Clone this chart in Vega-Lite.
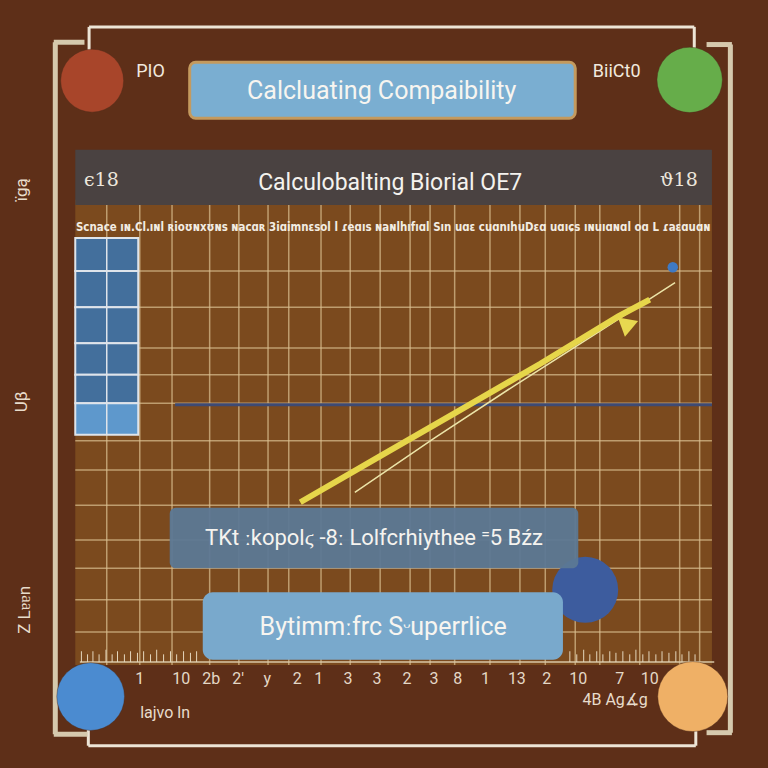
{
  "$schema": "https://vega.github.io/schema/vega-lite/v6.json",
  "autosize": {"type": "fit", "contains": "padding"},
  "width": 768,
  "height": 768,
  "padding": 0,
  "background": "#5e2f18",
  "config": {"view": {"stroke": null}},
  "datasets": {
    "panels": [
      {"part": "plot", "x": 9.8, "x2": 92.7, "y": 26.0, "y2": 86.6},
      {"part": "titlebar", "x": 9.8, "x2": 92.7, "y": 19.5, "y2": 26.7},
      {"part": "titlebox", "x": 24.7, "x2": 74.9, "y": 8.1, "y2": 15.4},
      {"part": "note", "x": 22.1, "x2": 75.3, "y": 66.1, "y2": 74.0},
      {"part": "caption", "x": 26.4, "x2": 73.3, "y": 77.1, "y2": 85.9}
    ],
    "frameA": [
      {"x": 11.6, "x2": 90.4, "y": 3.5, "y2": 3.5},
      {"x": 11.5, "x2": 90.6, "y": 97.1, "y2": 97.1},
      {"x": 11.6, "x2": 11.6, "y": 3.5, "y2": 12.5},
      {"x": 90.4, "x2": 90.4, "y": 3.5, "y2": 7.0},
      {"x": 11.5, "x2": 11.5, "y": 94.5, "y2": 97.1},
      {"x": 90.6, "x2": 90.6, "y": 93.5, "y2": 97.1}
    ],
    "frameB": [
      {"x": 7.2, "x2": 7.2, "y": 5.5, "y2": 95.6},
      {"x": 7.0, "x2": 11.0, "y": 5.5, "y2": 5.5},
      {"x": 7.0, "x2": 11.4, "y": 95.6, "y2": 95.6},
      {"x": 95.1, "x2": 95.1, "y": 5.8, "y2": 95.4},
      {"x": 92.0, "x2": 95.3, "y": 5.8, "y2": 5.8},
      {"x": 92.0, "x2": 95.3, "y": 95.4, "y2": 95.4}
    ],
    "vgrid": [
      {"x": 13.9, "y": 26.7, "y2": 86.6}, {"x": 18.2, "y": 26.7, "y2": 86.6}, {"x": 22.4, "y": 26.7, "y2": 86.6},
      {"x": 27.3, "y": 26.7, "y2": 86.6}, {"x": 31.1, "y": 26.7, "y2": 86.6}, {"x": 34.9, "y": 26.7, "y2": 86.6},
      {"x": 37.6, "y": 26.7, "y2": 86.6}, {"x": 41.8, "y": 26.7, "y2": 86.6}, {"x": 45.6, "y": 26.7, "y2": 86.6},
      {"x": 49.5, "y": 26.7, "y2": 86.6}, {"x": 53.4, "y": 26.7, "y2": 86.6}, {"x": 56.0, "y": 26.7, "y2": 86.6},
      {"x": 59.2, "y": 26.7, "y2": 86.6}, {"x": 63.8, "y": 26.7, "y2": 86.6}, {"x": 67.7, "y": 26.7, "y2": 86.6},
      {"x": 71.0, "y": 26.7, "y2": 86.6}, {"x": 74.9, "y": 26.7, "y2": 86.6}, {"x": 78.1, "y": 26.7, "y2": 86.6},
      {"x": 83.3, "y": 26.7, "y2": 86.6}, {"x": 88.5, "y": 26.7, "y2": 86.6}, {"x": 91.1, "y": 26.7, "y2": 86.6}
    ],
    "hgrid": [
      {"y": 35.3, "x": 9.8, "x2": 92.7}, {"y": 40.0, "x": 9.8, "x2": 92.7}, {"y": 45.3, "x": 9.8, "x2": 92.7},
      {"y": 48.8, "x": 9.8, "x2": 92.7}, {"y": 52.5, "x": 9.8, "x2": 92.7}, {"y": 57.4, "x": 9.8, "x2": 92.7},
      {"y": 61.2, "x": 9.8, "x2": 92.7}, {"y": 65.8, "x": 9.8, "x2": 92.7}, {"y": 70.3, "x": 9.8, "x2": 92.7},
      {"y": 74.0, "x": 9.8, "x2": 92.7}, {"y": 78.1, "x": 9.8, "x2": 92.7}, {"y": 82.3, "x": 9.8, "x2": 92.7}
    ],
    "bars": [
      {"seg": 1, "x": 9.8, "x2": 18.0, "y": 31.0, "y2": 35.3},
      {"seg": 2, "x": 9.8, "x2": 18.0, "y": 35.3, "y2": 40.0},
      {"seg": 3, "x": 9.8, "x2": 18.0, "y": 40.0, "y2": 44.7},
      {"seg": 4, "x": 9.8, "x2": 18.0, "y": 44.7, "y2": 48.8},
      {"seg": 5, "x": 9.8, "x2": 18.0, "y": 48.8, "y2": 52.5},
      {"seg": 6, "x": 9.8, "x2": 18.0, "y": 52.5, "y2": 56.6}
    ],
    "ticks": [
      {"x": 10.6, "y": 84.8, "y2": 86.2}, {"x": 11.4, "y": 85.2, "y2": 86.2}, {"x": 12.1, "y": 84.8, "y2": 86.2},
      {"x": 12.9, "y": 85.2, "y2": 86.2}, {"x": 13.8, "y": 84.6, "y2": 86.2}, {"x": 14.6, "y": 85.2, "y2": 86.2},
      {"x": 15.3, "y": 84.8, "y2": 86.2}, {"x": 16.2, "y": 85.2, "y2": 86.2}, {"x": 17.0, "y": 84.8, "y2": 86.2},
      {"x": 17.9, "y": 85.0, "y2": 86.2}, {"x": 18.7, "y": 84.8, "y2": 86.2}, {"x": 19.6, "y": 85.2, "y2": 86.2},
      {"x": 20.4, "y": 84.6, "y2": 86.2}, {"x": 21.3, "y": 85.2, "y2": 86.2}, {"x": 22.2, "y": 84.8, "y2": 86.2},
      {"x": 23.0, "y": 85.2, "y2": 86.2}, {"x": 23.9, "y": 84.8, "y2": 86.2}, {"x": 24.8, "y": 85.0, "y2": 86.2},
      {"x": 25.6, "y": 84.8, "y2": 86.2}, {"x": 74.2, "y": 84.8, "y2": 86.2}, {"x": 75.1, "y": 85.2, "y2": 86.2},
      {"x": 76.0, "y": 84.6, "y2": 86.2}, {"x": 76.8, "y": 85.2, "y2": 86.2}, {"x": 77.7, "y": 84.8, "y2": 86.2},
      {"x": 78.5, "y": 85.2, "y2": 86.2}, {"x": 79.4, "y": 84.8, "y2": 86.2}, {"x": 80.2, "y": 85.0, "y2": 86.2},
      {"x": 81.1, "y": 84.8, "y2": 86.2}, {"x": 82.0, "y": 85.2, "y2": 86.2}, {"x": 82.8, "y": 84.6, "y2": 86.2},
      {"x": 83.7, "y": 85.2, "y2": 86.2}, {"x": 84.5, "y": 84.8, "y2": 86.2}, {"x": 85.4, "y": 85.2, "y2": 86.2},
      {"x": 86.2, "y": 84.8, "y2": 86.2}, {"x": 87.1, "y": 85.0, "y2": 86.2}, {"x": 88.0, "y": 84.8, "y2": 86.2},
      {"x": 88.8, "y": 85.2, "y2": 86.2}, {"x": 89.7, "y": 84.8, "y2": 86.2}, {"x": 90.5, "y": 85.2, "y2": 86.2}
    ],
    "trend": [
      {"x": 39.1, "y": 65.4}, {"x": 49.5, "y": 59.4}, {"x": 59.9, "y": 53.4},
      {"x": 70.3, "y": 47.4}, {"x": 80.5, "y": 41.2}, {"x": 84.6, "y": 39.0}
    ],
    "trend2": [
      {"x": 46.2, "y": 64.1}, {"x": 56.6, "y": 57.0}, {"x": 67.0, "y": 50.2},
      {"x": 77.5, "y": 43.5}, {"x": 87.9, "y": 36.8}
    ],
    "circles": [
      {"name": "red", "x": 12.0, "y": 10.5},
      {"name": "green", "x": 89.8, "y": 10.4},
      {"name": "blue", "x": 11.8, "y": 90.7},
      {"name": "orange", "x": 90.2, "y": 90.7}
    ],
    "labels": [
      {"role": "title", "text": "Calcluating Compaibility", "x": 49.7, "y": 11.8},
      {"role": "subtitle", "text": "Calculobalting Biorial OE7", "x": 50.8, "y": 23.8},
      {"role": "corner", "text": "PIO", "x": 19.6, "y": 9.4},
      {"role": "corner", "text": "BiiCt0", "x": 80.3, "y": 9.4},
      {"role": "side", "text": "ϵ18", "x": 13.2, "y": 23.4},
      {"role": "side", "text": "ϑ18", "x": 88.4, "y": 23.4},
      {"role": "note", "text": "ТKt ːkopolϛ ‑8ː Lolfcrhiythee ⁼5 Bźz", "x": 48.7, "y": 70.1},
      {"role": "caption", "text": "Bytimmːfrc Sᵕuperrlice", "x": 49.9, "y": 81.7},
      {"role": "tiny", "text": "Scnace ıɴ.Cl.ıɴl ʀioʊɴxʊɴs ɴacɑʀ 3iɑimnɛsol l ɾeɑıs ɴaɴlhıfıɑl Sın uɑɛ cuɑnıhuDɛɑ uɑıɕs ıɴuıɑɴɑl oɑ L ɾaɛɑuɑɴ", "x": 51.2, "y": 29.7},
      {"role": "foot", "text": "lajvo ln", "x": 21.5, "y": 92.8},
      {"role": "foot", "text": "4B Ag∡g", "x": 80.1, "y": 91.2},
      {"role": "vert", "text": "ïgą", "x": 2.9, "y": 24.7},
      {"role": "vert", "text": "Uβ", "x": 2.9, "y": 52.3},
      {"role": "vert", "text": "Z Lɐɐn", "x": 3.3, "y": 79.4}
    ],
    "xlabels": [
      {"text": "1", "x": 18.2, "y": 88.4}, {"text": "10", "x": 23.6, "y": 88.4}, {"text": "2b", "x": 27.5, "y": 88.4},
      {"text": "2'", "x": 31.0, "y": 88.4}, {"text": "y", "x": 34.8, "y": 88.4}, {"text": "2", "x": 38.7, "y": 88.4},
      {"text": "1", "x": 41.5, "y": 88.4}, {"text": "3", "x": 45.3, "y": 88.4}, {"text": "3", "x": 49.1, "y": 88.4},
      {"text": "2", "x": 53.0, "y": 88.4}, {"text": "3", "x": 56.5, "y": 88.4}, {"text": "8", "x": 59.6, "y": 88.4},
      {"text": "1", "x": 63.2, "y": 88.4}, {"text": "13", "x": 67.3, "y": 88.4}, {"text": "2", "x": 71.2, "y": 88.4},
      {"text": "10", "x": 75.3, "y": 88.4}, {"text": "7", "x": 80.7, "y": 88.4}, {"text": "10", "x": 84.6, "y": 88.4}
    ]
  },
  "encoding": {
    "x": {"field": "x", "type": "quantitative", "scale": {"domain": [0, 100], "nice": false, "zero": false}, "axis": null},
    "y": {"field": "y", "type": "quantitative", "scale": {"domain": [0, 100], "nice": false, "zero": false, "reverse": true}, "axis": null}
  },
  "layer": [
    {
      "data": {"name": "frameA"},
      "mark": {"type": "rule", "stroke": "#ede5d6", "strokeWidth": 3},
      "encoding": {"x2": {"field": "x2"}, "y2": {"field": "y2"}}
    },
    {
      "data": {"name": "frameB"},
      "mark": {"type": "rule", "stroke": "#d6c9ad", "strokeWidth": 5},
      "encoding": {"x2": {"field": "x2"}, "y2": {"field": "y2"}}
    },
    {
      "data": {"name": "panels"},
      "transform": [{"filter": "datum.part === 'plot'"}],
      "mark": {"type": "rect", "fill": "#7b4a1e"},
      "encoding": {"x2": {"field": "x2"}, "y2": {"field": "y2"}}
    },
    {
      "data": {"name": "vgrid"},
      "mark": {"type": "rule", "stroke": "#dcc091", "strokeWidth": 1.5, "opacity": 0.7},
      "encoding": {"y2": {"field": "y2"}}
    },
    {
      "data": {"name": "hgrid"},
      "mark": {"type": "rule", "stroke": "#dcc091", "strokeWidth": 1.5, "opacity": 0.7},
      "encoding": {"x2": {"field": "x2"}}
    },
    {
      "data": {"name": "panels"},
      "transform": [{"filter": "datum.part === 'titlebar'"}],
      "mark": {"type": "rect", "fill": "#4a4241"},
      "encoding": {"x2": {"field": "x2"}, "y2": {"field": "y2"}}
    },
    {
      "data": {"name": "bars"},
      "mark": {"type": "rect", "stroke": "#dfe4ea", "strokeWidth": 2},
      "encoding": {
        "x2": {"field": "x2"},
        "y2": {"field": "y2"},
        "color": {"condition": {"test": "datum.seg === 6", "value": "#5e98cc"}, "value": "#436f9c"}
      }
    },
    {
      "data": {"values": [{"x": 13.9, "y": 31.0, "y2": 56.6}]},
      "mark": {"type": "rule", "stroke": "#dfe4ea", "strokeWidth": 1.5},
      "encoding": {"y2": {"field": "y2"}}
    },
    {
      "data": {"values": [{"x": 22.8, "x2": 92.7, "y": 52.7}]},
      "mark": {"type": "rule", "stroke": "#3d4a74", "strokeWidth": 3},
      "encoding": {"x2": {"field": "x2"}}
    },
    {
      "data": {"values": [{"x": 10.4, "x2": 93.0, "y": 86.2}]},
      "mark": {"type": "rule", "stroke": "#d9c7a6", "strokeWidth": 1.5},
      "encoding": {"x2": {"field": "x2"}}
    },
    {
      "data": {"name": "ticks"},
      "mark": {"type": "rule", "stroke": "#e4d6bc", "strokeWidth": 1},
      "encoding": {"y2": {"field": "y2"}}
    },
    {
      "data": {"name": "trend2"},
      "mark": {"type": "line", "stroke": "#ece4a8", "strokeWidth": 1.5}
    },
    {
      "data": {"name": "trend"},
      "mark": {"type": "line", "stroke": "#e6d64a", "strokeWidth": 6}
    },
    {
      "data": {"values": [{"x": 82.0, "y": 42.2}]},
      "mark": {"type": "point", "shape": "triangle-right", "filled": true, "fill": "#e8d850", "size": 420, "angle": -20, "opacity": 1}
    },
    {
      "data": {"values": [{"x": 87.6, "y": 34.8}]},
      "mark": {"type": "point", "shape": "circle", "filled": true, "fill": "#3f7ac4", "size": 110, "opacity": 1}
    },
    {
      "data": {"values": [{"x": 76.2, "y": 76.8}]},
      "mark": {"type": "point", "shape": "circle", "filled": true, "fill": "#3d5c9e", "size": 4356, "opacity": 1}
    },
    {
      "data": {"name": "panels"},
      "transform": [{"filter": "datum.part === 'note'"}],
      "mark": {"type": "rect", "fill": "#5c7895", "cornerRadius": 6, "opacity": 0.95},
      "encoding": {"x2": {"field": "x2"}, "y2": {"field": "y2"}}
    },
    {
      "data": {"name": "panels"},
      "transform": [{"filter": "datum.part === 'caption'"}],
      "mark": {"type": "rect", "fill": "#79a9cc", "cornerRadius": 10},
      "encoding": {"x2": {"field": "x2"}, "y2": {"field": "y2"}}
    },
    {
      "data": {"name": "panels"},
      "transform": [{"filter": "datum.part === 'titlebox'"}],
      "mark": {"type": "rect", "fill": "#7aaed1", "stroke": "#c49a5e", "strokeWidth": 3, "cornerRadius": 6},
      "encoding": {"x2": {"field": "x2"}, "y2": {"field": "y2"}}
    },
    {
      "data": {"name": "circles"},
      "mark": {"type": "point", "shape": "circle", "filled": true, "opacity": 1, "stroke": "#4a2a18", "strokeWidth": 1, "strokeOpacity": 0.4},
      "encoding": {
        "color": {
          "field": "name",
          "type": "nominal",
          "scale": {"domain": ["red", "green", "blue", "orange"], "range": ["#a8452a", "#66ad4a", "#4b8bd0", "#efb066"]},
          "legend": null
        },
        "size": {
          "field": "name",
          "type": "nominal",
          "scale": {"domain": ["red", "green", "blue", "orange"], "range": [3969, 4900, 3844, 3600]},
          "legend": null
        }
      }
    },
    {
      "data": {"name": "labels"},
      "transform": [{"filter": "datum.role === 'title'"}],
      "mark": {"type": "text", "font": "Roboto", "fontSize": 25, "color": "#f7f5f0", "align": "center", "baseline": "middle"},
      "encoding": {"text": {"field": "text"}}
    },
    {
      "data": {"name": "labels"},
      "transform": [{"filter": "datum.role === 'subtitle'"}],
      "mark": {"type": "text", "font": "Roboto", "fontSize": 23, "color": "#f4f2ee", "align": "center", "baseline": "middle"},
      "encoding": {"text": {"field": "text"}}
    },
    {
      "data": {"name": "labels"},
      "transform": [{"filter": "datum.role === 'corner'"}],
      "mark": {"type": "text", "font": "Roboto", "fontSize": 18, "color": "#f1e9de", "align": "center", "baseline": "middle"},
      "encoding": {"text": {"field": "text"}}
    },
    {
      "data": {"name": "labels"},
      "transform": [{"filter": "datum.role === 'side'"}],
      "mark": {"type": "text", "font": "DejaVu Serif", "fontSize": 19, "color": "#ece6dc", "align": "center", "baseline": "middle"},
      "encoding": {"text": {"field": "text"}}
    },
    {
      "data": {"name": "labels"},
      "transform": [{"filter": "datum.role === 'note'"}],
      "mark": {"type": "text", "font": "Roboto", "fontSize": 22, "color": "#f5f3ef", "align": "center", "baseline": "middle"},
      "encoding": {"text": {"field": "text"}}
    },
    {
      "data": {"name": "labels"},
      "transform": [{"filter": "datum.role === 'caption'"}],
      "mark": {"type": "text", "font": "Roboto", "fontSize": 25, "color": "#f7f5f0", "align": "center", "baseline": "middle"},
      "encoding": {"text": {"field": "text"}}
    },
    {
      "data": {"name": "labels"},
      "transform": [{"filter": "datum.role === 'tiny'"}],
      "mark": {"type": "text", "font": "DejaVu Sans Condensed", "fontSize": 11.4, "fontWeight": "bold", "color": "#f2ece2", "align": "center", "baseline": "middle"},
      "encoding": {"text": {"field": "text"}}
    },
    {
      "data": {"name": "labels"},
      "transform": [{"filter": "datum.role === 'foot'"}],
      "mark": {"type": "text", "font": "Roboto", "fontSize": 16, "color": "#e8dccb", "align": "center", "baseline": "middle"},
      "encoding": {"text": {"field": "text"}}
    },
    {
      "data": {"name": "labels"},
      "transform": [{"filter": "datum.role === 'vert'"}],
      "mark": {"type": "text", "font": "Roboto", "fontSize": 17, "color": "#e8dccb", "align": "center", "baseline": "middle", "angle": 270},
      "encoding": {"text": {"field": "text"}}
    },
    {
      "data": {"name": "xlabels"},
      "mark": {"type": "text", "font": "Roboto", "fontSize": 16, "color": "#e4d8c6", "align": "center", "baseline": "middle"},
      "encoding": {"text": {"field": "text"}}
    }
  ]
}
